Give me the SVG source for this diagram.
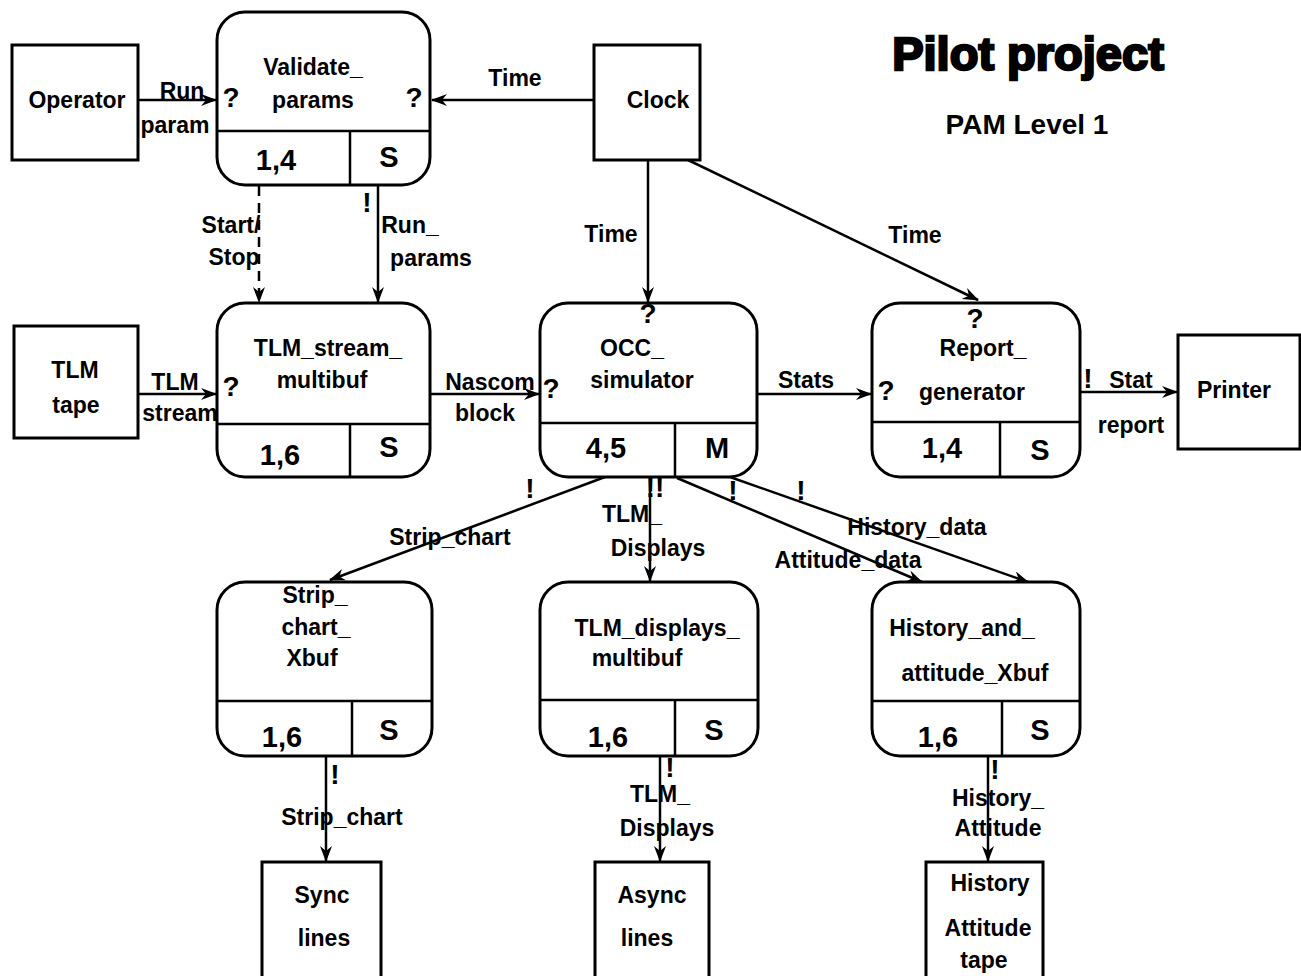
<svg xmlns="http://www.w3.org/2000/svg" width="1301" height="976" viewBox="0 0 1301 976">
<style>
text{font-family:"Liberation Sans","DejaVu Sans",sans-serif;font-weight:bold;fill:#000;text-anchor:middle}
.t{font-size:23px}
.n{font-size:29px}
.q{font-size:28px}
.box{fill:#fff;stroke:#000;stroke-width:3}
.div{stroke:#000;stroke-width:2.5;fill:none}
.c{stroke:#000;stroke-width:2.5;fill:none;marker-end:url(#ah)}
.d{stroke-dasharray:10 7}
.title{font-size:47px;font-weight:900;stroke:#000;stroke-width:2.5}
</style>
<defs>
<marker id="ah" viewBox="0 0 16 12" refX="15" refY="6" markerWidth="16" markerHeight="12" markerUnits="userSpaceOnUse" orient="auto">
<path d="M0,0 L16,6 L0,12 L5,6 z" fill="#000"/>
</marker>
</defs>
<rect width="1301" height="976" fill="#fff"/>

<g id="title">
<text class="title" x="1028" y="70">Pilot project</text>
<text x="1027" y="134" style="font-size:28px">PAM Level 1</text>
</g>

<g id="connectors">
<line class="c" x1="138" y1="100" x2="216" y2="100"/>
<line class="c" x1="594" y1="100" x2="432" y2="100"/>
<line class="c d" x1="259" y1="186" x2="259" y2="302"/>
<line class="c" x1="378" y1="186" x2="378" y2="302"/>
<line class="c" x1="648" y1="160" x2="648" y2="302"/>
<line class="c" x1="688" y1="160" x2="978" y2="300"/>
<line class="c" x1="138" y1="394" x2="216" y2="394"/>
<line class="c" x1="430" y1="394" x2="539" y2="394"/>
<line class="c" x1="757" y1="394" x2="871" y2="394"/>
<line class="c" x1="1080" y1="392" x2="1177" y2="392"/>
<line class="c" x1="605" y1="477" x2="330" y2="580"/>
<line class="c" x1="650" y1="477" x2="650" y2="581"/>
<line class="c" x1="677" y1="478" x2="922" y2="582"/>
<line class="c" x1="730" y1="477" x2="1028" y2="582"/>
<line class="c" x1="326" y1="756" x2="326" y2="861"/>
<line class="c" x1="660" y1="756" x2="660" y2="861"/>
<line class="c" x1="988" y1="756" x2="988" y2="861"/>

<text class="t" x="182" y="99">Run</text>
<text class="t" x="175" y="133">param</text>
<text class="t" x="515" y="86">Time</text>
<text class="t" x="231" y="233">Start/</text>
<text class="t" x="234" y="265">Stop</text>
<text class="q" x="367" y="212">!</text>
<text class="t" x="410" y="233">Run_</text>
<text class="t" x="431" y="266">params</text>
<text class="t" x="611" y="242">Time</text>
<text class="t" x="915" y="243">Time</text>
<text class="t" x="175" y="390">TLM</text>
<text class="t" x="180" y="421">stream</text>
<text class="t" x="490" y="390">Nascom</text>
<text class="t" x="485" y="421">block</text>
<text class="t" x="806" y="388">Stats</text>
<text class="q" x="1088" y="388">!</text>
<text class="t" x="1131" y="388">Stat</text>
<text class="t" x="1131" y="433">report</text>
<text class="q" x="530" y="498">!</text>
<text class="t" x="450" y="545">Strip_chart</text>
<text class="q" x="655" y="497">!!</text>
<text class="t" x="632" y="522">TLM_</text>
<text class="t" x="658" y="556">Displays</text>
<text class="q" x="733" y="500">!</text>
<text class="q" x="801" y="500">!</text>
<text class="t" x="917" y="535">History_data</text>
<text class="t" x="848" y="568">Attitude_data</text>
<text class="q" x="335" y="784">!</text>
<text class="t" x="342" y="825">Strip_chart</text>
<text class="q" x="670" y="777">!</text>
<text class="t" x="660" y="802">TLM_</text>
<text class="t" x="667" y="836">Displays</text>
<text class="q" x="995" y="779">!</text>
<text class="t" x="998" y="806">History_</text>
<text class="t" x="998" y="836">Attitude</text>
</g>

<g id="operator">
<rect class="box" x="12" y="45" width="126" height="115"/>
<text class="t" x="77" y="108">Operator</text>
</g>

<g id="validate_params">
<rect class="box" x="217" y="12" width="213" height="173" rx="28"/>
<path class="div" d="M217,131 H430 M350,131 V185"/>
<text class="t" x="313" y="75">Validate_</text>
<text class="t" x="313" y="108">params</text>
<text class="q" x="231" y="107">?</text>
<text class="q" x="414" y="107">?</text>
<text class="n" x="276" y="170">1,4</text>
<text class="n" x="389" y="167">S</text>
</g>

<g id="clock">
<rect class="box" x="594" y="45" width="106" height="115"/>
<text class="t" x="658" y="108">Clock</text>
</g>

<g id="tlm_tape">
<rect class="box" x="14" y="326" width="124" height="112"/>
<text class="t" x="75" y="378">TLM</text>
<text class="t" x="76" y="413">tape</text>
</g>

<g id="tlm_stream_multibuf">
<rect class="box" x="217" y="303" width="213" height="174" rx="28"/>
<path class="div" d="M217,424 H430 M350,424 V477"/>
<text class="t" x="328" y="356">TLM_stream_</text>
<text class="t" x="322" y="388">multibuf</text>
<text class="q" x="231" y="396">?</text>
<text class="n" x="280" y="465">1,6</text>
<text class="n" x="389" y="457">S</text>
</g>

<g id="occ_simulator">
<rect class="box" x="540" y="303" width="217" height="174" rx="28"/>
<path class="div" d="M540,423 H757 M675,423 V477"/>
<text class="q" x="648" y="323">?</text>
<text class="t" x="632" y="356">OCC_</text>
<text class="t" x="642" y="388">simulator</text>
<text class="q" x="551" y="398">?</text>
<text class="n" x="606" y="458">4,5</text>
<text class="n" x="717" y="458">M</text>
</g>

<g id="report_generator">
<rect class="box" x="872" y="303" width="208" height="174" rx="28"/>
<path class="div" d="M872,422 H1080 M1000,422 V477"/>
<text class="q" x="975" y="328">?</text>
<text class="t" x="983" y="356">Report_</text>
<text class="t" x="972" y="400">generator</text>
<text class="q" x="886" y="400">?</text>
<text class="n" x="942" y="458">1,4</text>
<text class="n" x="1040" y="460">S</text>
</g>

<g id="printer">
<rect class="box" x="1178" y="335" width="122" height="114"/>
<text class="t" x="1234" y="398">Printer</text>
</g>

<g id="strip_chart_xbuf">
<rect class="box" x="217" y="582" width="215" height="174" rx="28"/>
<path class="div" d="M217,701 H432 M352,701 V756"/>
<text class="t" x="315" y="603">Strip_</text>
<text class="t" x="316" y="635">chart_</text>
<text class="t" x="312" y="666">Xbuf</text>
<text class="n" x="282" y="747">1,6</text>
<text class="n" x="389" y="740">S</text>
</g>

<g id="tlm_displays_multibuf">
<rect class="box" x="540" y="582" width="218" height="174" rx="28"/>
<path class="div" d="M540,700 H758 M675,700 V756"/>
<text class="t" x="657" y="636">TLM_displays_</text>
<text class="t" x="637" y="666">multibuf</text>
<text class="n" x="608" y="747">1,6</text>
<text class="n" x="714" y="740">S</text>
</g>

<g id="history_attitude_xbuf">
<rect class="box" x="872" y="582" width="208" height="174" rx="28"/>
<path class="div" d="M872,701 H1080 M1002,701 V756"/>
<text class="t" x="962" y="636">History_and_</text>
<text class="t" x="975" y="681">attitude_Xbuf</text>
<text class="n" x="938" y="747">1,6</text>
<text class="n" x="1040" y="740">S</text>
</g>

<g id="sync_lines">
<rect class="box" x="262" y="862" width="119" height="120"/>
<text class="t" x="322" y="903">Sync</text>
<text class="t" x="324" y="946">lines</text>
</g>

<g id="async_lines">
<rect class="box" x="595" y="862" width="114" height="120"/>
<text class="t" x="652" y="903">Async</text>
<text class="t" x="647" y="946">lines</text>
</g>

<g id="history_attitude_tape">
<rect class="box" x="926" y="862" width="117" height="120"/>
<text class="t" x="990" y="891">History</text>
<text class="t" x="988" y="936">Attitude</text>
<text class="t" x="984" y="968">tape</text>
</g>
</svg>
